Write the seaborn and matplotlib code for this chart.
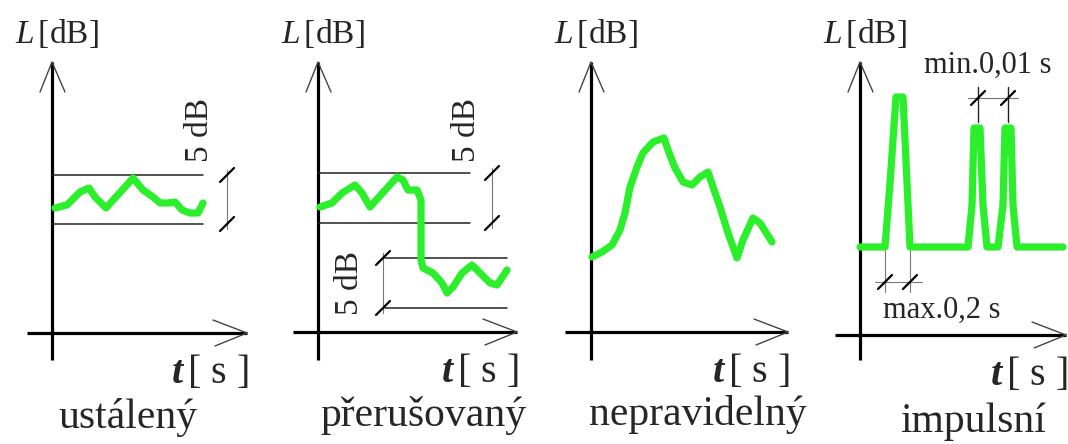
import seaborn as sns
import matplotlib.pyplot as plt
import pandas as pd

sns.set_style("white")
plt.rcParams['font.family'] = 'serif'
plt.rcParams['font.serif'] = ['Liberation Serif', 'DejaVu Serif']
plt.rcParams['mathtext.fontset'] = 'custom'
plt.rcParams['mathtext.rm'] = 'Liberation Serif'
plt.rcParams['mathtext.it'] = 'Liberation Serif:italic'
plt.rcParams['mathtext.bf'] = 'Liberation Serif:italic:bold'

W, H = 1068, 444
GREEN = '#2bef2b'

# local units: t = pixels right of the L axis, L = pixels above the t axis
steady_t = [3, 15, 28, 37, 43, 54, 63, 73, 81, 91, 101, 108, 116, 123, 130, 138, 146, 151]
steady_L = [125, 128, 141, 145, 136, 125, 135, 146, 155, 143, 136, 130, 130, 131, 123, 120, 120, 130]

interr_t = [2, 14, 24, 37, 44, 52, 60, 70, 79, 85, 90, 99, 103, 103, 105, 115, 124, 129, 135, 144, 154, 162, 172, 179, 189]
interr_L = [125, 129, 139, 147, 139, 125, 134, 145, 155, 152, 142, 142, 132, 72, 64, 59, 49, 39, 45, 59, 67, 59, 49, 47, 62]

irreg_t = [1, 11, 21, 29, 34, 39, 46, 52, 62, 73, 77, 84, 92, 101, 109, 117, 122, 129, 137, 146, 152, 162, 169, 181]
irreg_L = [75, 80, 87, 102, 119, 145, 165, 179, 190, 194, 182, 164, 150, 147, 155, 160, 145, 125, 99, 74, 92, 114, 109, 90]

impulse_t = [0, 25, 30, 33, 36, 43, 45, 47, 50, 108, 112, 114, 120, 123, 127,
             138, 143, 145, 151, 153, 157, 203]
impulse_L = [88, 88, 152, 195, 238, 238, 195, 152, 88, 88, 130, 207, 207, 130, 88,
             88, 130, 207, 207, 130, 88, 88]

titles = ['ustálený', 'přerušovaný', 'nepravidelný', 'impulsní']

fig = plt.figure(figsize=(W / 100, H / 100), dpi=100)


def panel(ox, oy, left, right):
    ax = fig.add_axes([left / W, 0, (right - left) / W, 1])
    ax.set_xlim(left - ox, right - ox)
    ax.set_ylim(oy - H, oy)
    ax.axis('off')
    return ax


def frame(ax, top, bottom, x0, x1, title, tx, ty):
    ax.plot([0, 0], [bottom, top], color='black', lw=2.3, solid_capstyle='butt')
    ax.plot([x0, x1], [0, 0], color='black', lw=2.3, solid_capstyle='butt')
    ax.plot([-12, 0, 13], [top - 30, top, top - 30], color='#444444', lw=1)
    ax.plot([x1 - 34, x1, x1 - 32], [13, 0, -13], color='#444444', lw=1)
    ax.text(5, top + 28, r'$L\,$[dB]', fontsize=24, ha='center', va='center')
    ax.text(x1 + 2, -40, r'$\mathbf{t}\,$[ s ]', fontsize=29, ha='right', va='center')
    ax.text(tx, ty, title, fontsize=30, ha='center', va='center')


def hline(ax, L, t0, t1):
    ax.plot([t0, t1], [L, L], color='#222222', lw=1.1)


def dim_v(ax, t, L0, L1, label=None, lx=None, ly=None):
    ax.plot([t, t], [L0 - 5, L1 + 5], color='#777777', lw=0.8)
    for L in (L0, L1):
        ax.plot([t - 7, t + 7], [L - 7, L + 7], color='black', lw=1.6)
    if label:
        ax.text(lx, ly, label, fontsize=24, rotation=90, ha='center', va='center')


def slash(ax, t, L):
    ax.plot([t - 7, t + 7], [L - 7, L + 7], color='black', lw=1.6)


def green(ax, t, L):
    df = pd.DataFrame({'t': t, 'L': L})
    sns.lineplot(data=df, x='t', y='L', sort=False, estimator=None,
                 color=GREEN, lw=5.2, ax=ax, legend=False,
                 solid_joinstyle='round', solid_capstyle='round')
    ax.set_xlabel('')
    ax.set_ylabel('')


# panel 1: steady
ax1 = panel(52, 333, 0, 267)
frame(ax1, 271, -27, -25, 195, titles[0], 76, -84)
hline(ax1, 158, 0, 151)
hline(ax1, 109, 0, 151)
dim_v(ax1, 175, 109, 158, '5 dB', 148, 203)
green(ax1, steady_t, steady_L)

# panel 2: interrupted
ax2 = panel(318, 332, 267, 537)
frame(ax2, 270, -28, -25, 199, titles[1], 105, -83)
hline(ax2, 159, 0, 152)
hline(ax2, 109, 0, 152)
dim_v(ax2, 174, 109, 159, '5 dB', 149, 202)
hline(ax2, 74, 67, 189)
hline(ax2, 24, 67, 189)
dim_v(ax2, 65, 24, 74, '5 dB', 32, 49)
green(ax2, interr_t, interr_L)

# panel 3: irregular
ax3 = panel(591, 332, 537, 805)
frame(ax3, 270, -28, -26, 197, titles[2], 107, -82)
green(ax3, irreg_t, irreg_L)

# panel 4: impulse
ax4 = panel(860, 335, 805, 1068)
frame(ax4, 273, -25, -25, 206, titles[3], 113, -87)
ax4.plot([108, 158], [237, 237], color='#777777', lw=0.8)
for t in (118, 148):
    ax4.plot([t, t], [248, 213], color='#222222', lw=1)
    slash(ax4, t, 237)
ax4.text(128, 270, 'min.0,01 s', fontsize=22, ha='center', va='center')
ax4.plot([15, 62], [53, 53], color='#777777', lw=0.8)
for t in (25, 50):
    ax4.plot([t, t], [85, 43], color='#777777', lw=0.8)
    slash(ax4, t, 53)
ax4.text(82, 25, 'max.0,2 s', fontsize=22, ha='center', va='center')
green(ax4, impulse_t, impulse_L)

fig.savefig('out.png', dpi=100)
